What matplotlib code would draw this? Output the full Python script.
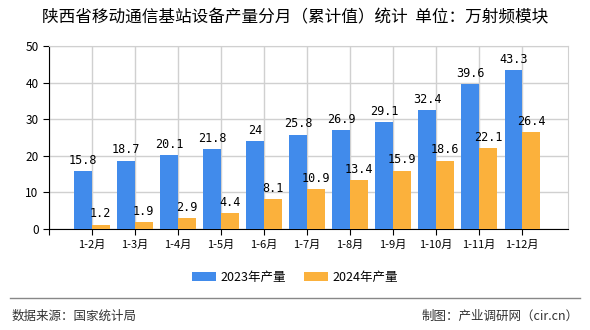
import matplotlib
matplotlib.use("Agg")
import matplotlib.pyplot as plt
import numpy as np

plt.rcParams['font.family'] = ['Noto Sans CJK SC', 'DejaVu Sans']

months = ["1-2月", "1-3月", "1-4月", "1-5月", "1-6月", "1-7月",
          "1-8月", "1-9月", "1-10月", "1-11月", "1-12月"]
v2023 = [15.8, 18.7, 20.1, 21.8, 24, 25.8, 26.9, 29.1, 32.4, 39.6, 43.3]
v2024 = [1.2, 1.9, 2.9, 4.4, 8.1, 10.9, 13.4, 15.9, 18.6, 22.1, 26.4]
lab2023 = ["15.8", "18.7", "20.1", "21.8", "24", "25.8", "26.9", "29.1", "32.4", "39.6", "43.3"]
lab2024 = ["1.2", "1.9", "2.9", "4.4", "8.1", "10.9", "13.4", "15.9", "18.6", "22.1", "26.4"]

blue = '#418BEB'
orange = '#FBB13C'

fig = plt.figure(figsize=(5.9, 3.3), dpi=100)
ax = fig.add_axes([0.083, 0.306, 0.880, 0.555])

x = np.arange(len(months))
w = 0.41
ax.bar(x - w / 2, v2023, w, color=blue, label='2023年产量', zorder=3)
ax.bar(x + w / 2, v2024, w, color=orange, label='2024年产量', zorder=3)

# value labels above each bar
for xi, v, s in zip(x, v2023, lab2023):
    ax.text(xi - w / 2, v + 1.2, s, ha='center', va='bottom', fontsize=8.5,
            family='DejaVu Sans Mono', zorder=4)
for xi, v, s in zip(x, v2024, lab2024):
    ax.text(xi + w / 2, v + 1.2, s, ha='center', va='bottom', fontsize=8.5,
            family='DejaVu Sans Mono', zorder=4)

ax.set_xlim(-1, 11.07)
ax.set_ylim(0, 50)
ax.set_yticks([0, 10, 20, 30, 40, 50])
ax.set_xticks(list(x) + [-1])
ax.set_xticklabels(months + [""], fontsize=8)
ax.tick_params(axis='y', labelsize=8.5, length=4)
ax.tick_params(axis='x', length=4)
ax.grid(True, color='#d0d0d0', linewidth=1, zorder=0)
for s in ['top', 'right']:
    ax.spines[s].set_color('#d0d0d0')
for s in ['left', 'bottom']:
    ax.spines[s].set_color('black')

fig.text(0.5, 0.945, '陕西省移动通信基站设备产量分月（累计值）统计  单位：万射频模块',
         ha='center', va='center', fontsize=12)
fig.legend(loc='center', bbox_to_anchor=(0.5, 0.16), ncol=2, frameon=False,
           fontsize=9, handlelength=1.9, handleheight=0.8, handletextpad=0.4,
           columnspacing=1.4)

fig.add_artist(plt.Line2D([0.017, 0.983], [0.097, 0.097], color='#888888', linewidth=1))
fig.text(0.02, 0.042, '数据来源：国家统计局', fontsize=9, color='#333333', va='center')
fig.text(0.98, 0.042, '制图：产业调研网（cir.cn）', fontsize=9, color='#333333',
         va='center', ha='right')

fig.savefig('out.png', dpi=100)
